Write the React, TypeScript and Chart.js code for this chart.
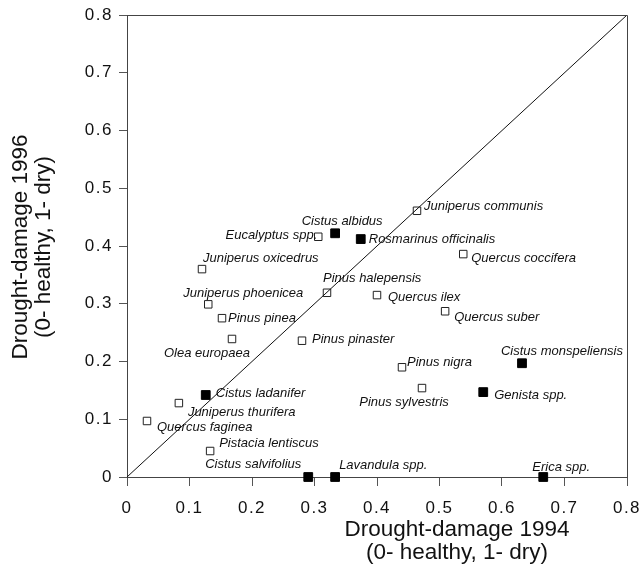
import React, { useEffect, useRef } from 'react';
import { Chart, registerables } from 'chart.js';

Chart.register(...registerables);

// ---- data ----
const speciesNames = [
  'Juniperus communis', 'Cistus albidus', 'Rosmarinus officinalis', 'Quercus coccifera',
  'Eucalyptus spp.', 'Juniperus oxicedrus', 'Juniperus phoenicea', 'Pinus pinea',
  'Olea europaea', 'Pinus pinaster', 'Pinus halepensis', 'Quercus ilex',
  'Quercus suber', 'Cistus monspeliensis', 'Pinus nigra', 'Pinus sylvestris',
  'Genista spp.', 'Cistus ladanifer', 'Juniperus thurifera', 'Quercus faginea',
  'Pistacia lentiscus', 'Cistus salvifolius', 'Lavandula spp.', 'Erica spp.',
];
const damage1994 = [
  0.464, 0.333, 0.374, 0.538,
  0.306, 0.120, 0.130, 0.152,
  0.168, 0.280, 0.320, 0.400,
  0.509, 0.632, 0.440, 0.472,
  0.570, 0.126, 0.083, 0.032,
  0.133, 0.290, 0.333, 0.666,
];
const damage1996 = [
  0.461, 0.422, 0.412, 0.386,
  0.416, 0.360, 0.299, 0.275,
  0.239, 0.236, 0.319, 0.315,
  0.287, 0.197, 0.190, 0.154,
  0.147, 0.142, 0.128, 0.097,
  0.045, 0.000, 0.000, 0.000,
];
// true = filled square, false = open square
const filledMarker = [
  false, true, true, false,
  false, false, false, false,
  false, false, false, false,
  false, true, false, false,
  true, true, false, false,
  false, true, true, true,
];
const diagonalLine = [0, 0.8];
const xTitleLines = ['Drought-damage 1994', '(0- healthy, 1- dry)'];
const yTitleLines = ['Drought-damage 1996', '(0- healthy, 1- dry)'];

// ---- label placement (style) : [dx, dy, align] in pixels relative to the marker ----
const labelPlacement: [number, number, CanvasTextAlign][] = [
  [7, -4, 'left'], [7, -12, 'center'], [8, 0, 'left'], [8, 4, 'left'],
  [-1, -1, 'right'], [1, -11, 'left'], [95, -11, 'right'], [6, 0, 'left'],
  [18, 14, 'right'], [10, -1, 'left'], [-4, -14, 'left'], [11, 2, 'left'],
  [9, 6, 'left'], [101, -12, 'right'], [5, -5, 'left'], [-18, 14, 'center'],
  [11, 3, 'left'], [10, -2, 'left'], [9, 9, 'left'], [10, 6, 'left'],
  [9, -8, 'left'], [-7, -13, 'right'], [4, -12, 'left'], [18, -10, 'center'],
];

const FONT = "'Liberation Sans', Arial, Helvetica, sans-serif";

const spacingPlugin = {
  id: 'tickSpacing',
  beforeDraw(chart: any) {
    chart.ctx.letterSpacing = '1.5px';
  },
  beforeDatasetsDraw(chart: any) {
    chart.ctx.letterSpacing = '0px';
  },
};

const labelsPlugin = {
  id: 'speciesLabels',
  afterDatasetsDraw(chart: any) {
    const ctx = chart.ctx;
    const xs = chart.scales.x;
    const ys = chart.scales.y;
    ctx.save();
    ctx.letterSpacing = '0px';
    ctx.font = `italic 13px ${FONT}`;
    ctx.fillStyle = '#111';
    ctx.textBaseline = 'middle';
    speciesNames.forEach((name, i) => {
      const px = xs.getPixelForValue(damage1994[i]);
      const py = ys.getPixelForValue(damage1996[i]);
      const [dx, dy, align] = labelPlacement[i];
      ctx.textAlign = align;
      ctx.fillText(name, px + dx, py + dy);
    });
    ctx.restore();
  },
};

const framePlugin = {
  id: 'frameAndTitles',
  afterDraw(chart: any) {
    const ctx = chart.ctx;
    const a = chart.chartArea;
    ctx.save();
    ctx.letterSpacing = '0px';
    ctx.strokeStyle = '#444';
    ctx.lineWidth = 1;
    ctx.beginPath();
    ctx.moveTo(a.left, a.top + 0.5);
    ctx.lineTo(a.right + 0.5, a.top + 0.5);
    ctx.lineTo(a.right + 0.5, a.bottom);
    ctx.stroke();

    ctx.fillStyle = '#111';
    ctx.font = `22.5px ${FONT}`;
    ctx.textAlign = 'center';
    ctx.textBaseline = 'middle';
    const cx = (a.left + a.right) / 2 + 80;
    xTitleLines.forEach((t, i) => ctx.fillText(t, cx, a.bottom + 53 + i * 23));

    const cy = (a.top + a.bottom) / 2 + 1;
    ctx.translate(0, cy);
    ctx.rotate(-Math.PI / 2);
    yTitleLines.forEach((t, i) => ctx.fillText(t, 0, 21 + i * 23));
    ctx.restore();
  },
};

const tickText = (v: any) => (Number(v) === 0 ? '0' : Number(v).toFixed(1));

export default function App() {
  const ref = useRef<HTMLCanvasElement>(null);
  useEffect(() => {
    document.body.style.margin = '0';
    if (!ref.current) return;
    const openPts: { x: number; y: number }[] = [];
    const filledPts: { x: number; y: number }[] = [];
    damage1994.forEach((x, i) => {
      (filledMarker[i] ? filledPts : openPts).push({ x, y: damage1996[i] });
    });
    const chart = new Chart(ref.current, {
      type: 'scatter',
      data: {
        datasets: [
          {
            type: 'line',
            label: '1:1',
            data: diagonalLine.map((v) => ({ x: v, y: v })),
            borderColor: '#111',
            borderWidth: 1,
            pointRadius: 0,
            showLine: true,
            fill: false,
          } as any,
          {
            label: 'open',
            data: openPts,
            pointStyle: 'rect',
            pointRadius: 5.3,
            backgroundColor: '#fff',
            borderColor: '#222',
            borderWidth: 1,
            clip: false,
          } as any,
          {
            label: 'filled',
            data: filledPts,
            pointStyle: 'rect',
            pointRadius: 6.2,
            backgroundColor: '#000',
            borderColor: '#000',
            borderWidth: 1,
            clip: false,
          } as any,
        ],
      },
      options: {
        responsive: false,
        animation: false,
        layout: { padding: { top: 15, right: 15, left: 0, bottom: 0 } },
        plugins: {
          legend: { display: false },
          tooltip: { enabled: false },
        },
        scales: {
          x: {
            type: 'linear',
            min: 0,
            max: 0.8,
            afterFit: (s: any) => {
              s.height = 88;
              s.paddingLeft = 0;
              s.paddingRight = 0;
            },
            ticks: {
              stepSize: 0.1,
              padding: 12,
              color: '#111',
              font: { family: FONT, size: 17 },
              callback: tickText,
            },
            grid: { drawOnChartArea: false, drawTicks: true, tickLength: 9, color: '#555' },
            border: { display: true, color: '#444' },
          },
          y: {
            type: 'linear',
            min: 0,
            max: 0.8,
            afterFit: (s: any) => {
              s.width = 127;
              s.paddingTop = 0;
              s.paddingBottom = 0;
            },
            ticks: {
              stepSize: 0.1,
              padding: 6,
              color: '#111',
              font: { family: FONT, size: 17 },
              callback: tickText,
            },
            grid: { drawOnChartArea: false, drawTicks: true, tickLength: 8, color: '#555' },
            border: { display: true, color: '#444' },
          },
        },
      },
      plugins: [spacingPlugin, labelsPlugin, framePlugin],
    });
    return () => chart.destroy();
  }, []);
  return (
    <div style={{ width: 642, height: 565 }}>
      <canvas ref={ref} width={642} height={565} style={{ display: 'block' }} />
    </div>
  );
}
